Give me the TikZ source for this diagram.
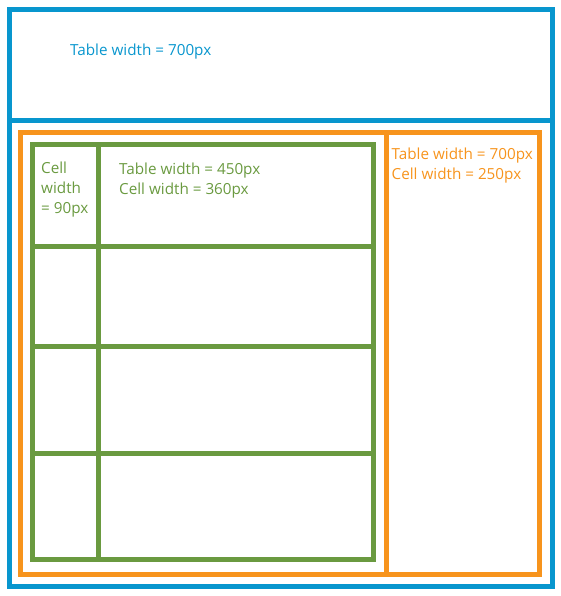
\documentclass[tikz,border=0pt]{standalone}
\usepackage{fontspec}
\setmainfont{Open Sans}
\definecolor{tblue}{RGB}{8,150,206}
\definecolor{torange}{RGB}{247,148,29}
\definecolor{tgreen}{RGB}{106,154,64}
\begin{document}
\begin{tikzpicture}[x=1pt,y=-1pt,
  frame/.style={line width=5pt},
  lbl/.style={anchor=base west, inner sep=0pt, font=\fontsize{15.25}{18}\selectfont}]
\useasboundingbox (0,0) rectangle (561,596);
% outer blue table
\draw[frame,tblue] (9.5,9.5) rectangle (552.5,586.5);
\draw[frame,tblue] (9.5,121) -- (552.5,121);
% orange table
\draw[frame,torange] (20.5,132.5) rectangle (539.5,574.5);
\draw[frame,torange] (386.5,132.5) -- (386.5,574.5);
% green table
\draw[frame,tgreen] (32.5,144.5) rectangle (373.5,559.5);
\draw[frame,tgreen] (98.5,144.5) -- (98.5,559.5);
\foreach \yy in {246.5,346.5,453} \draw[frame,tgreen] (32.5,\yy) -- (373.5,\yy);
% labels
\node[lbl,text=tblue] (b1) at (70,56) {Table width = 700px};
\node[lbl,text=tgreen] (g1) at (41,173) {Cell};
\node[lbl,text=tgreen] (g2) at (41,193) {width};
\node[lbl,text=tgreen] (g3) at (41,213) {= 90px};
\node[lbl,text=tgreen] (g4) at (119,174) {Table width = 450px};
\node[lbl,text=tgreen] (g5) at (119,194) {Cell width = 360px};
\node[lbl,text=torange] (o1) at (391.5,160) {Table width = 700px};
\node[lbl,text=torange] (o2) at (391.5,179.5) {Cell width = 250px};
\end{tikzpicture}
\end{document}
